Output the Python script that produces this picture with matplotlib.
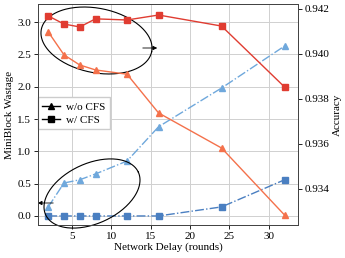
import numpy as np
import matplotlib
matplotlib.use("Agg")
import matplotlib.pyplot as plt

plt.rcParams['font.family'] = ['Liberation Serif', 'DejaVu Serif']
plt.rcParams['font.size'] = 8

delay = [2, 4, 6, 8, 12, 16, 24, 32]
# miniblock wastage (left axis)
waste_wo = [0.14, 0.51, 0.56, 0.65, 0.85, 1.38, 1.98, 2.63]
waste_w = [0.0, 0.0, 0.0, 0.0, 0.0, 0.0, 0.14, 0.56]
# accuracy (right axis)
acc_wo = [0.94098, 0.93996, 0.93951, 0.93929, 0.9391, 0.93738, 0.93582, 0.93284]
acc_w = [0.94169, 0.94133, 0.9412, 0.94156, 0.94151, 0.94173, 0.94124, 0.93853]

fig = plt.figure(figsize=(3.45, 2.58), dpi=100)
ax = fig.add_axes([38 / 345, 33 / 258, 260 / 345, 221 / 258])
ax2 = ax.twinx()

ax.plot(delay, waste_wo, color='#6fa8dc', ls='-.', lw=1, marker='^', ms=4.5)
ax.plot(delay, waste_w, color='#4a7fc1', ls='-.', lw=1, marker='s', ms=4.5)
ax2.plot(delay, acc_wo, color='#f4714b', ls='-', lw=1, marker='^', ms=4.5)
ax2.plot(delay, acc_w, color='#e03c31', ls='-', lw=1, marker='s', ms=4.5)

ax.set_xlim(0.7, 33.7)
ax.set_ylim(-0.14, 3.28)
ax2.set_ylim(0.9324, 0.94222)
ax.set_xticks([5, 10, 15, 20, 25, 30])
ax.set_yticks([0.0, 0.5, 1.0, 1.5, 2.0, 2.5, 3.0])
ax2.set_yticks([0.934, 0.936, 0.938, 0.940, 0.942])
ax.set_yticklabels(['0.0', '0.5', '1.0', '1.5', '2.0', '2.5', '3.0'])
ax2.set_yticklabels(['0.934', '0.936', '0.938', '0.940', '0.942'])
ax.grid(True, color='#d0d0d0', lw=0.7)
ax.set_axisbelow(True)
for a in (ax, ax2):
    a.tick_params(length=3, width=0.6, pad=2)
    for s in a.spines.values():
        s.set_color('#444444')
        s.set_linewidth(0.7)

ax.set_xlabel('Network Delay (rounds)', labelpad=1)
ax.set_ylabel('MiniBlock Wastage', labelpad=2)
ax2.set_ylabel('Accuracy', labelpad=2)

h1, = ax.plot([], [], color='black', marker='^', ms=4, lw=1)
h2, = ax.plot([], [], color='black', marker='s', ms=4, lw=1)
ax.legend([h1, h2], ['w/o CFS', 'w/ CFS'], loc='lower left',
          bbox_to_anchor=(0.0, 0.434), borderaxespad=0, handlelength=1.6,
          handletextpad=0.5, borderpad=0.4, labelspacing=0.3, framealpha=1,
          edgecolor='#cccccc', fancybox=False)

# ellipses drawn in axes-fraction coordinates (pixel-sized semi axes)
W, H = 260.0, 221.0
t = np.linspace(0, 2 * np.pi, 200)
for cx, cy, a, b, ang in [(96.5, 40.5, 56.3, 32.2, -11.5), (92, 193.5, 51, 30, 24.7)]:
    th = np.radians(ang)
    px = a * np.cos(t) * np.cos(th) - b * np.sin(t) * np.sin(th)
    py = a * np.cos(t) * np.sin(th) + b * np.sin(t) * np.cos(th)
    ax.plot((cx - 38 + px) / W, (225 - cy + py) / H, color='black', lw=0.8,
            transform=ax.transAxes, clip_on=False, zorder=5)

ax.annotate('', xy=((160 - 38) / W, (225 - 48) / H), xytext=((140 - 38) / W, (225 - 48) / H),
            xycoords='axes fraction', arrowprops=dict(arrowstyle='-|>', color='black',
                                                      lw=0.6, mutation_scale=6))
ax.annotate('', xy=((35 - 38) / W, (225 - 203) / H), xytext=((56 - 38) / W, (225 - 203) / H),
            xycoords='axes fraction', arrowprops=dict(arrowstyle='-|>', color='black',
                                                      lw=0.6, mutation_scale=6))

fig.savefig('out.png', dpi=100)
